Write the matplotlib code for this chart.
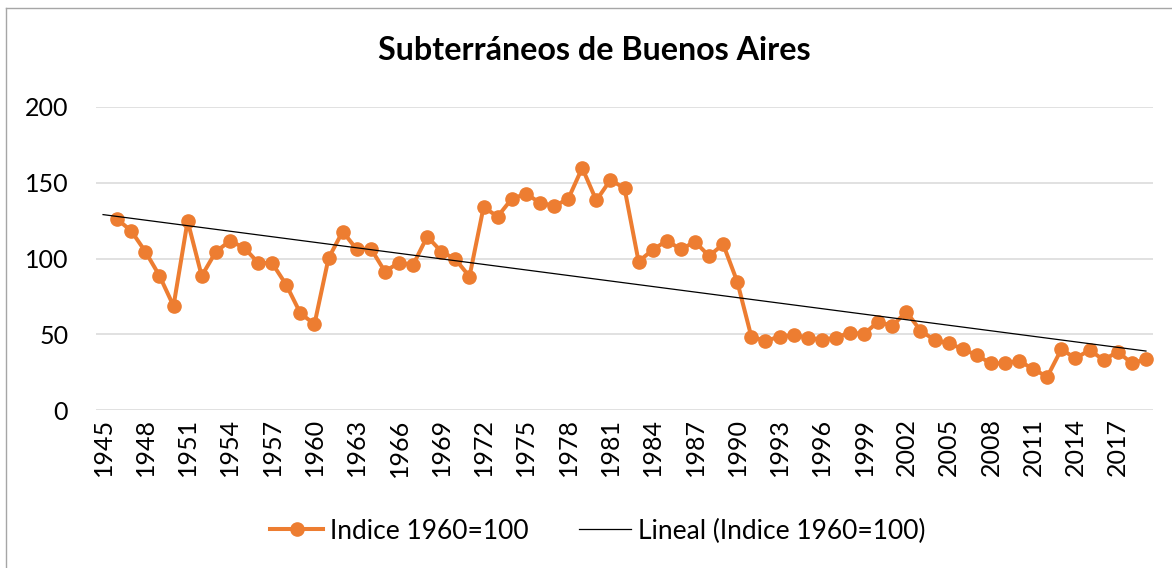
import numpy as np
import matplotlib
matplotlib.use("Agg")
import matplotlib.pyplot as plt
from matplotlib.lines import Line2D

# categories 1945..2019, first year has no value
years = list(range(1945, 2020))
indice = [np.nan,
          126.0, 118.2, 104.6, 88.7, 68.7, 124.8, 88.5, 104.4, 111.6, 107.2,
          97.3, 96.9, 82.6, 63.9, 56.6, 100.2, 117.8, 106.1, 106.6, 91.4,
          97.3, 95.8, 114.5, 104.6, 99.5, 88.1, 133.9, 127.7, 139.4, 142.7,
          136.9, 134.7, 139.2, 159.8, 138.3, 151.9, 146.4, 98.0, 105.7, 111.8,
          106.1, 111.0, 101.7, 109.4, 84.7, 48.4, 45.6, 48.4, 49.5, 47.8,
          46.2, 47.8, 51.1, 50.2, 58.3, 55.5, 64.9, 52.4, 46.2, 44.0,
          40.3, 36.1, 30.8, 30.8, 32.6, 26.9, 22.0, 40.1, 34.1, 39.6,
          33.0, 38.5, 30.8, 33.5]
tick_labels = [str(y) for y in years[::3]]

plt.rcParams["font.family"] = ["Lato", "DejaVu Sans"]

fig = plt.figure(figsize=(11.72, 5.68), dpi=100)
ax = fig.add_axes([96 / 1172, 1 - 410 / 568, (1153 - 96) / 1172, (410 - 107) / 568])

x = np.arange(len(years))
y = np.array(indice, dtype=float)
ok = ~np.isnan(y)

# linear trend (Excel "Lineal")
k, b = np.polyfit(x[ok] + 1, y[ok], 1)
trend = k * (x + 1) + b

ax.plot(x, y, color="#ED7D31", lw=2.9, marker="o", ms=9.5, zorder=3)
ax.plot(x, trend, color="black", lw=0.9, zorder=4)

ax.set_xlim(-0.5, len(years) - 0.5)
ax.set_ylim(0, 200)
ax.set_yticks([0, 50, 100, 150, 200])
ax.set_xticks(x[::3])
ax.set_xticklabels(tick_labels, rotation=90)
ax.tick_params(axis="both", length=0, labelsize=18, pad=6)
ax.tick_params(axis="y", pad=20)
ax.grid(axis="y", color="#D9D9D9", lw=1.1)
ax.set_axisbelow(True)
for s in ax.spines.values():
    s.set_visible(False)

fig.text(594 / 1172, 1 - 51 / 568, "Subterráneos de Buenos Aires",
         ha="center", va="center", fontsize=23.2, fontweight="bold")

handles = [Line2D([], [], color="#ED7D31", lw=2.9, marker="o", ms=9.5),
           Line2D([], [], color="black", lw=0.9)]
fig.legend(handles, ["Indice 1960=100", "Lineal (Indice 1960=100)"],
           loc="center", bbox_to_anchor=(598 / 1172, 1 - 531 / 568),
           ncol=2, frameon=False, fontsize=19, handlelength=2.0,
           columnspacing=1.9, handletextpad=0.25)

# chart border (left and top edges visible)
fig.add_artist(Line2D([6 / 1172, 6 / 1172], [0, 1 - 8 / 568], color="#A6A6A6", lw=1))
fig.add_artist(Line2D([6 / 1172, 1], [1 - 8 / 568, 1 - 8 / 568], color="#A6A6A6", lw=1))

fig.savefig("out.png", dpi=100)
